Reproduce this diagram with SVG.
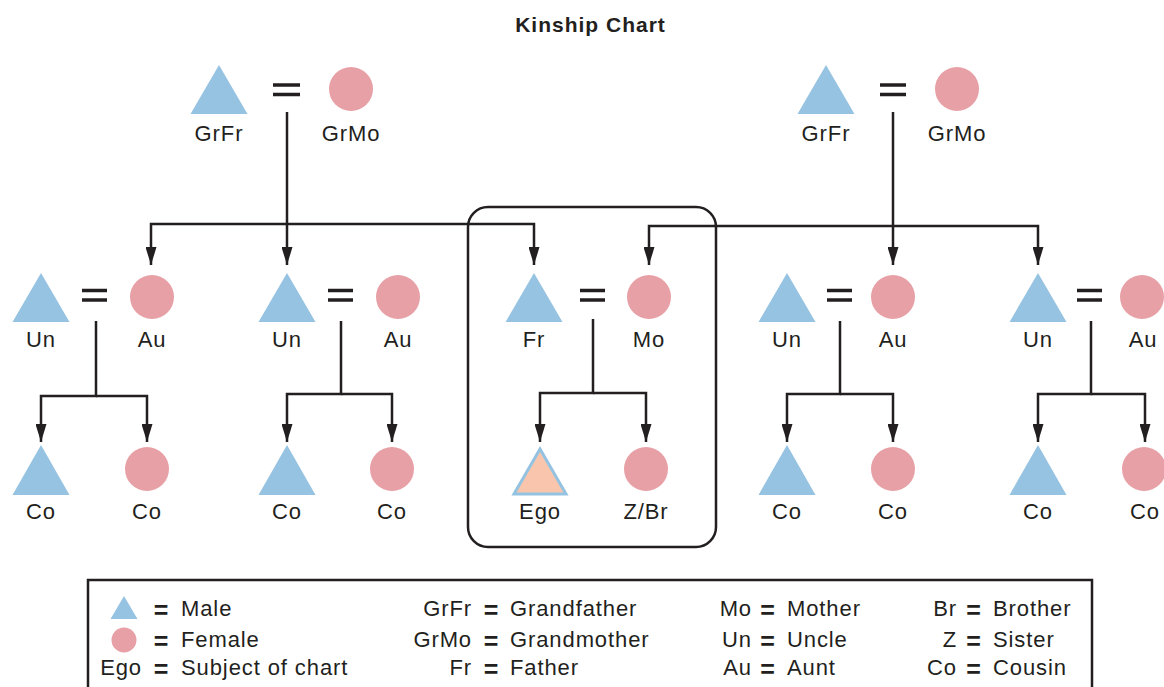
<svg xmlns="http://www.w3.org/2000/svg" width="1164" height="687" viewBox="0 0 1164 687">
<style>
.m{fill:#96c3e2}
.f{fill:#e7a0a6}
.ego{fill:#f9c6ad;stroke:#94c3e2;stroke-width:3}
.t{font-family:"Liberation Sans",Arial,sans-serif;font-size:22px;letter-spacing:0.9px;fill:#231f20}
.lbl{text-anchor:middle}
.c{fill:none;stroke:#231f20;stroke-width:2.5;marker-end:url(#ah)}
.eq{stroke:#231f20;stroke-width:3.5}
.eqt{font-size:25px;font-weight:bold;letter-spacing:0}
</style>
<defs>
<marker id="ah" viewBox="0 0 18 11" refX="18" refY="5.5" markerWidth="18" markerHeight="11" markerUnits="userSpaceOnUse" orient="auto">
<path d="M0,0 L18,5.5 L0,11 z" fill="#231f20"/>
</marker>
</defs>
<rect width="1164" height="687" fill="#ffffff"/>
<text x="590.5" y="32" text-anchor="middle" style="font-family:'Liberation Sans',Arial,sans-serif;font-size:21px;font-weight:bold;letter-spacing:1px;fill:#231f20">Kinship Chart</text>

<g id="connectors">
<path class="c" d="M287,112 V265"/>
<path class="c" d="M287,224 H151 V265"/>
<path class="c" d="M287,224 H534 V265"/>
<path class="c" d="M893,112 V265"/>
<path class="c" d="M893,226 H649 V265"/>
<path class="c" d="M893,226 H1038 V265"/>
<path class="c" d="M96,321 V396 H41 V442"/>
<path class="c" d="M96,396 H147 V442"/>
<path class="c" d="M341,321 V394 H287 V442"/>
<path class="c" d="M341,394 H392 V442"/>
<path class="c" d="M593,319 V393 H540 V442"/>
<path class="c" d="M593,393 H646 V442"/>
<path class="c" d="M840,321 V394 H787 V442"/>
<path class="c" d="M840,394 H893 V442"/>
<path class="c" d="M1091,321 V394 H1038 V442"/>
<path class="c" d="M1091,394 H1145 V442"/>
</g>

<g id="marriages">
<path class="eq" d="M273,85 H300 M273,94.5 H300"/>
<path class="eq" d="M880,85 H906 M880,94.5 H906"/>
<path class="eq" d="M82,290.5 H107 M82,300 H107"/>
<path class="eq" d="M328,290.5 H353 M328,300 H353"/>
<path class="eq" d="M580,290.5 H605 M580,300 H605"/>
<path class="eq" d="M827,290.5 H852 M827,300 H852"/>
<path class="eq" d="M1077,290.5 H1102 M1077,300 H1102"/>
</g>

<g id="egoBox"><rect x="468" y="207" width="248" height="340" rx="20" fill="none" stroke="#231f20" stroke-width="2.5"/></g>

<!-- row 1 -->
<g id="grfr-left"><polygon class="m" points="219,65 247.5,114 190.5,114"/><text class="t lbl" x="219" y="141">GrFr</text></g>
<g id="grmo-left"><circle class="f" cx="351" cy="89" r="22"/><text class="t lbl" x="351" y="141">GrMo</text></g>
<g id="grfr-right"><polygon class="m" points="826,65 854.5,114 797.5,114"/><text class="t lbl" x="826" y="141">GrFr</text></g>
<g id="grmo-right"><circle class="f" cx="957" cy="89" r="22"/><text class="t lbl" x="957" y="141">GrMo</text></g>

<!-- row 2 -->
<g id="un1"><polygon class="m" points="41,273 69.5,322 12.5,322"/><text class="t lbl" x="41" y="347">Un</text></g>
<g id="au1"><circle class="f" cx="152" cy="297" r="22"/><text class="t lbl" x="152" y="347">Au</text></g>
<g id="un2"><polygon class="m" points="287,273 315.5,322 258.5,322"/><text class="t lbl" x="287" y="347">Un</text></g>
<g id="au2"><circle class="f" cx="398" cy="297" r="22"/><text class="t lbl" x="398" y="347">Au</text></g>
<g id="fr"><polygon class="m" points="534,273 562.5,322 505.5,322"/><text class="t lbl" x="534" y="347">Fr</text></g>
<g id="mo"><circle class="f" cx="649" cy="297" r="22"/><text class="t lbl" x="649" y="347">Mo</text></g>
<g id="un4"><polygon class="m" points="787,273 815.5,322 758.5,322"/><text class="t lbl" x="787" y="347">Un</text></g>
<g id="au4"><circle class="f" cx="893" cy="297" r="22"/><text class="t lbl" x="893" y="347">Au</text></g>
<g id="un5"><polygon class="m" points="1038,273 1066.5,322 1009.5,322"/><text class="t lbl" x="1038" y="347">Un</text></g>
<g id="au5"><circle class="f" cx="1142" cy="297" r="22"/><text class="t lbl" x="1143" y="347">Au</text></g>

<!-- row 3 -->
<g id="co1a"><polygon class="m" points="41,445 69.5,495 12.5,495"/><text class="t lbl" x="41" y="519">Co</text></g>
<g id="co1b"><circle class="f" cx="147" cy="469" r="22"/><text class="t lbl" x="147" y="519">Co</text></g>
<g id="co2a"><polygon class="m" points="287,445 315.5,495 258.5,495"/><text class="t lbl" x="287" y="519">Co</text></g>
<g id="co2b"><circle class="f" cx="392" cy="469" r="22"/><text class="t lbl" x="392" y="519">Co</text></g>
<g id="ego"><polygon class="ego" points="540,449 566,494 514,494"/><text class="t lbl" x="540" y="519">Ego</text></g>
<g id="zbr"><circle class="f" cx="646" cy="469" r="22"/><text class="t lbl" x="646" y="519">Z/Br</text></g>
<g id="co4a"><polygon class="m" points="787,445 815.5,495 758.5,495"/><text class="t lbl" x="787" y="519">Co</text></g>
<g id="co4b"><circle class="f" cx="893" cy="469" r="22"/><text class="t lbl" x="893" y="519">Co</text></g>
<g id="co5a"><polygon class="m" points="1038,445 1066.5,495 1009.5,495"/><text class="t lbl" x="1038" y="519">Co</text></g>
<g id="co5b"><circle class="f" cx="1144" cy="469" r="22"/><text class="t lbl" x="1145" y="519">Co</text></g>

<!-- legend -->
<g id="legend">
<rect x="88" y="580" width="1004" height="130" fill="none" stroke="#231f20" stroke-width="2.5"/>
<polygon class="m" points="124,596 137.5,619 110.5,619"/>
<circle class="f" cx="124" cy="640" r="12.5"/>
<text class="t"><tspan class="eqt" x="161" y="618.5" text-anchor="middle">=</tspan><tspan x="181" y="616">Male</tspan></text>
<text class="t"><tspan class="eqt" x="161" y="649.5" text-anchor="middle">=</tspan><tspan x="181" y="647">Female</tspan></text>
<text class="t"><tspan x="142" y="675" text-anchor="end">Ego</tspan><tspan class="eqt" x="161" y="677.5" text-anchor="middle">=</tspan><tspan x="181" y="675">Subject of chart</tspan></text>

<text class="t"><tspan x="472" y="616" text-anchor="end">GrFr</tspan><tspan class="eqt" x="491" y="618.5" text-anchor="middle">=</tspan><tspan x="510" y="616">Grandfather</tspan></text>
<text class="t"><tspan x="472" y="647" text-anchor="end">GrMo</tspan><tspan class="eqt" x="491" y="649.5" text-anchor="middle">=</tspan><tspan x="510" y="647">Grandmother</tspan></text>
<text class="t"><tspan x="472" y="675" text-anchor="end">Fr</tspan><tspan class="eqt" x="491" y="677.5" text-anchor="middle">=</tspan><tspan x="510" y="675">Father</tspan></text>

<text class="t"><tspan x="752" y="616" text-anchor="end">Mo</tspan><tspan class="eqt" x="767.5" y="618.5" text-anchor="middle">=</tspan><tspan x="787" y="616">Mother</tspan></text>
<text class="t"><tspan x="752" y="647" text-anchor="end">Un</tspan><tspan class="eqt" x="767.5" y="649.5" text-anchor="middle">=</tspan><tspan x="787" y="647">Uncle</tspan></text>
<text class="t"><tspan x="752" y="675" text-anchor="end">Au</tspan><tspan class="eqt" x="767.5" y="677.5" text-anchor="middle">=</tspan><tspan x="787" y="675">Aunt</tspan></text>

<text class="t"><tspan x="957" y="616" text-anchor="end">Br</tspan><tspan class="eqt" x="973.5" y="618.5" text-anchor="middle">=</tspan><tspan x="993" y="616">Brother</tspan></text>
<text class="t"><tspan x="957" y="647" text-anchor="end">Z</tspan><tspan class="eqt" x="973.5" y="649.5" text-anchor="middle">=</tspan><tspan x="993" y="647">Sister</tspan></text>
<text class="t"><tspan x="957" y="675" text-anchor="end">Co</tspan><tspan class="eqt" x="973.5" y="677.5" text-anchor="middle">=</tspan><tspan x="993" y="675">Cousin</tspan></text>
</g>
</svg>
